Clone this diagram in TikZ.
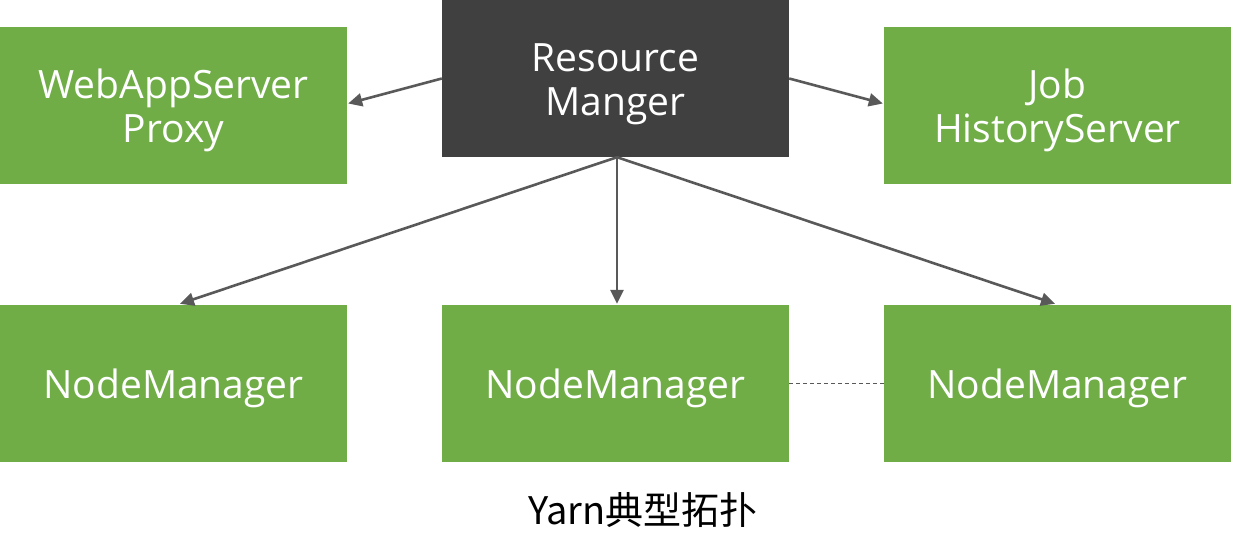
\documentclass[tikz,border=0pt]{standalone}
\usepackage{fontspec}
\setmainfont{Open Sans}
\newfontfamily\cjk{Noto Sans CJK SC}
\usetikzlibrary{arrows.meta,calc}
\definecolor{boxgreen}{HTML}{70AD47}
\definecolor{boxdark}{HTML}{404040}
\definecolor{arrowgray}{HTML}{595959}
\newcommand\boxtext[1]{\raisebox{-6pt}[\height][\depth]{\begin{tabular}{@{}c@{}}#1\end{tabular}}}
\tikzset{
  box/.style={fill=boxgreen, draw=none, minimum width=347pt, minimum height=157pt,
    inner sep=0pt, text=white, align=center, font=\fontsize{39}{44}\selectfont},
  darkbox/.style={box, fill=boxdark},
  conn/.style={draw=arrowgray, line width=2.6pt, -{Triangle[length=14pt,width=13pt]}},
  link/.style={draw=arrowgray, line width=0.9pt, dash pattern=on 4pt off 3pt},
}
\begin{document}
\begin{tikzpicture}[x=1pt,y=-1pt]
\useasboundingbox (0,0) rectangle (1233,552);
\node[darkbox] (rm) at (615.5,78.5) {\boxtext{Resource\\Manger}};
\node[box] (web) at (173.5,105.5) {\boxtext{WebAppServer\\Proxy}};
\node[box] (jhs) at (1057.5,105.5) {\boxtext{Job\\HistoryServer}};
\node[box] (nm1) at (173.5,383.5) {\boxtext{NodeManager}};
\node[box] (nm2) at (615.5,383.5) {\boxtext{NodeManager}};
\node[box] (nm3) at (1057.5,383.5) {\boxtext{NodeManager}};
\node[font=\cjk\fontsize{38}{44}\selectfont, text=black] (cap) at (643,510) {Yarn典型拓扑};
\draw[conn] (rm.west) -- ($(web.east)+(1,-2)$);
\draw[conn] (rm.east) -- ($(jhs.west)+(-1,-2)$);
\draw[conn] ($(rm.south)+(1.5,0)$) -- ($(nm1.north)+(6.5,-1)$);
\draw[conn] ($(rm.south)+(1.5,0)$) -- ($(nm2.north)+(1.5,-1)$);
\draw[conn] ($(rm.south)+(1.5,0)$) -- ($(nm3.north)+(-2.5,-1)$);
\draw[link] (nm2.east) -- (nm3.west);
\end{tikzpicture}
\end{document}
